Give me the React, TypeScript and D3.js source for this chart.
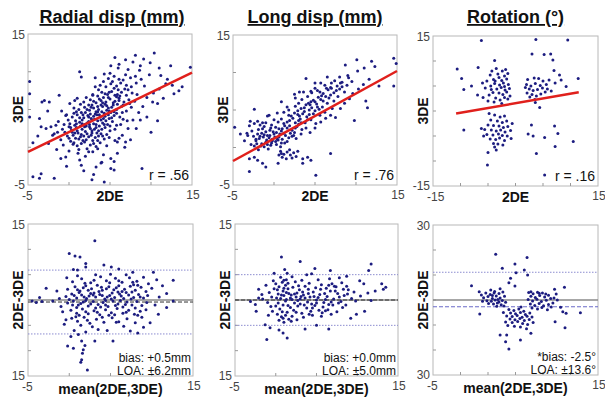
import * as d3 from 'd3';
import React from 'react';

type Pt = [number, number];

// ---- data ----

const radialCorr: Pt[] = [
  [5.6,11.9],[8.1,12.2],[10.4,12.5],[6.9,11.6],[9.1,11.7],[8.7,10.8],[9.9,11.2],[12.4,10.8],[14.8,10.6],[1.3,10.0],
  [5.1,10.8],[6.1,11.0],[7.8,11.3],[1.5,9.3],[4.3,9.7],[11.2,9.5],[11.8,8.4],[12.6,8.2],[13.4,7.5],[12.8,7.1],
  [11.0,7.7],[10.2,6.0],[10.8,5.8],[10.0,2.0],[8.7,3.6],[-4.8,8.7],[-4.8,7.1],[-3.3,6.0],[-3.0,6.2],[-2.4,6.0],
  [-1.2,6.9],[-4.8,4.0],[-3.4,2.7],[-2.8,2.5],[-2.2,2.7],[-1.6,2.9],[-1.4,2.0],[-2.0,1.6],[-0.4,4.2],[0.9,4.7],
  [0.7,6.2],[2.9,6.9],[-4.4,-3.9],[-3.6,-4.1],[-3.4,-3.5],[-1.8,-4.1],[-1.0,-1.5],[-0.4,-1.3],[1.3,-1.7],[1.5,-2.4],
  [3.3,-2.6],[4.3,-4.6],[5.1,-1.5],[5.5,-1.9],[5.1,-2.8],[5.5,-3.0],[8.9,-2.8],[3.9,-2.1],[2.9,-0.6],[6.1,1.2],
  [6.9,0.7],[5.9,0.7],
  [0.2,0.8],[0.8,1.2],[1.5,0.5],[2.1,1.0],[2.6,0.3],[3.2,1.3],[1.0,0.2],[3.8,0.6],[0.5,1.6],[2.9,0.9],[4.3,1.1],[1.8,1.5],
  [-0.5,2.0],[0.3,2.3],[1.1,1.9],[1.6,2.4],[2.2,1.8],[2.8,2.2],[3.4,1.9],[4.0,2.4],[4.6,1.7],[0.9,2.6],[2.5,2.7],[3.7,2.8],[5.0,2.2],[-0.2,1.5],[1.4,1.4],
  [0.1,3.1],[0.7,2.9],[1.3,3.3],[1.9,3.0],[2.4,3.4],[3.0,3.1],[3.5,3.5],[4.1,3.2],[4.7,3.0],[5.3,3.4],[-0.6,3.0],[2.1,2.8],[3.3,2.6],[5.8,2.9],[1.6,3.6],
  [0.4,4.0],[1.0,4.3],[1.8,3.9],[2.3,4.2],[2.7,3.8],[3.2,4.4],[3.8,4.0],[4.3,4.5],[4.9,3.8],[5.5,4.2],[6.2,4.0],[2.0,4.6],[3.5,4.7],[5.1,4.6],[6.6,3.7],[-0.3,4.3],
  [1.2,5.0],[1.9,5.3],[2.5,4.9],[3.0,5.2],[3.6,5.0],[4.1,5.4],[4.6,4.9],[5.2,5.3],[5.8,5.0],[6.4,5.4],[7.0,4.8],[2.8,5.6],[4.4,5.7],[0.6,5.2],[7.6,5.3],
  [1.8,6.0],[2.6,6.3],[3.3,5.9],[3.9,6.2],[4.5,6.0],[5.0,6.4],[5.6,6.1],[6.1,6.5],[6.7,6.0],[7.3,6.3],[4.2,6.6],[5.4,5.6],[8.0,6.1],
  [2.9,7.0],[3.5,6.8],[4.0,7.3],[4.7,7.0],[5.2,7.4],[5.9,7.0],[6.4,7.3],[7.0,6.9],[7.7,7.2],[3.6,7.6],[5.5,7.8],[6.8,7.7],[8.3,7.0],
  [3.8,8.2],[4.5,8.0],[5.1,8.4],[5.8,8.1],[6.3,8.5],[7.0,8.2],[7.6,8.0],[4.2,8.7],[6.6,8.9],[8.2,8.5],
  [4.8,9.1],[5.5,9.4],[6.1,9.0],[6.9,9.6],[7.5,9.2],[5.0,9.8],[8.1,9.4],[3.2,9.2],
  [0.0,1.2],[0.6,0.6],[1.2,1.1],[1.7,0.9],[2.4,1.4],[3.0,0.5],[3.6,1.5],[0.4,2.0],[1.0,2.2],[1.5,1.7],[2.0,2.1],[2.7,1.6],
  [3.1,2.4],[3.9,1.8],[4.4,2.6],[0.2,2.6],[0.8,3.5],[1.4,2.8],[2.2,3.2],[2.8,3.6],[3.3,3.0],[3.9,3.6],[4.5,3.5],[5.0,2.8],
  [1.3,3.9],[1.7,4.3],[2.4,4.0],[3.0,4.1],[3.7,4.3],[4.4,4.1],[4.8,4.3],[2.2,5.0],[2.7,5.3],[3.3,4.7],[3.9,5.6],[4.8,5.2],
  [5.5,4.7],[5.9,5.7],[3.0,6.1],[4.1,5.9],[4.8,6.6],[5.8,6.7],[6.1,6.2],[4.4,7.1],[5.6,6.9],[6.0,7.6],[-1.0,1.0],[-0.8,2.4],
  [-1.3,3.4],[-0.9,4.8],[0.1,5.8],[1.0,6.5],[-1.8,1.8],[-2.5,0.5],[-1.5,-0.3],[0.0,-0.5],[1.2,-0.3],[2.4,-0.6],[3.5,-0.2],
  [4.6,0.2],[5.6,0.9],[6.5,1.6],[7.2,2.5],[7.8,3.6],[8.5,4.6],[9.0,5.4],[9.5,6.6],[10.3,7.2],[9.2,8.1],[8.8,9.0],[9.8,9.6],
  [7.2,10.3],[6.0,10.5],[8.6,10.2],[9.5,4.0],[8.2,2.5],[6.8,0.0],[5.9,-0.8],[4.2,-1.0],[2.0,-1.2],[-0.3,-2.5],[1.8,-3.1],
  [3.0,-3.6],[4.0,-2.0],[7.5,1.0],[-3.8,1.5],[-4.4,0.6],[-2.6,4.8],[-3.6,3.8],[11.5,6.5],[12.0,9.0],[13.8,8.0],[11.0,10.5],
  [10.8,3.5],[2.8,-4.3],
  [0.5,0.4],[1.9,0.7],[2.8,1.9],[3.5,0.9],[4.1,1.5],[0.7,1.9],[1.9,2.7],[2.6,2.5],[3.6,2.2],[4.3,3.0],[0.9,3.1],[1.6,3.1],
  [2.5,3.0],[3.1,3.7],[4.2,3.8],[5.2,3.9],[1.5,4.6],[2.6,4.4],[3.4,4.3],[4.0,4.7],[4.9,4.8],[5.8,4.5],[2.4,5.6],[3.5,5.4],
  [4.6,5.5],[5.4,5.9],[6.6,5.6],[3.7,6.4],[4.9,7.3],[6.2,6.8],[7.2,7.6],[5.3,8.7],[0.0,2.7],[-0.1,3.6],[0.6,4.5],[1.4,5.7],
  [2.1,6.6],[3.2,8.0],[6.5,4.6],[7.1,3.5],[7.4,5.8],[5.6,2.4],[6.3,3.0],[4.9,1.3],[1.1,-0.8],[2.2,-0.2],[3.3,0.1],[-0.7,0.3],
];

const longCorr: Pt[] = [
  [14.6,11.9],[14.9,11.2],[10.1,11.7],[11.9,11.5],[12.3,10.8],[8.7,11.0],[11.0,10.6],[10.2,10.2],[12.8,8.2],[14.6,8.2],
  [11.2,6.2],[11.4,5.3],[9.8,3.6],[9.1,9.3],[8.1,8.6],[6.9,8.0],[5.7,8.6],[3.9,9.2],[2.5,7.1],[3.1,7.4],[0.9,6.1],[4.5,7.5],
  [-4.8,2.7],[-4.1,1.8],[-3.6,0.9],[-3.2,1.6],[-2.9,3.5],[-2.4,5.1],[-2.0,3.5],[-0.8,4.2],[-1.4,3.3],[-3.0,-1.5],[-2.4,-1.3],
  [-2.0,-1.7],[-1.4,-2.1],[-1.0,-2.6],[-3.0,-3.2],[0.5,-2.1],[0.9,-0.8],[3.5,-1.5],[4.1,-1.3],[4.5,-1.7],[3.5,-2.1],[5.1,-3.7],[6.9,-0.8],
  [-2.8,0.4],[-2.2,0.9],[-1.6,0.2],[-1.0,0.7],[-0.4,0.3],[0.2,0.8],[-1.9,-0.3],[0.8,0.1],[-0.7,-0.2],[1.3,0.6],
  [-2.5,1.5],[-1.8,1.2],[-1.2,1.7],[-0.6,1.3],[0.0,1.8],[0.6,1.4],[1.2,1.9],[1.8,1.3],[-1.5,1.9],[-0.2,1.1],[2.4,1.6],[0.4,1.1],[-0.9,1.0],
  [-1.9,2.4],[-1.2,2.8],[-0.5,2.3],[0.2,2.7],[0.9,2.2],[1.6,2.6],[2.2,2.3],[2.8,2.8],[3.4,2.4],[1.3,2.9],[-0.1,2.1],[2.5,2.0],
  [0.5,3.4],[1.2,3.2],[1.9,3.6],[2.6,3.3],[3.2,3.8],[3.8,3.3],[4.5,3.7],[2.3,3.9],[0.0,3.7],[5.1,3.2],[3.0,3.1],
  [1.8,4.3],[2.5,4.6],[3.1,4.2],[3.7,4.8],[4.3,4.4],[5.0,4.9],[5.6,4.3],[2.9,4.9],[4.0,4.1],[6.2,4.7],[1.2,4.7],
  [2.6,5.5],[3.3,5.2],[3.9,5.7],[4.6,5.3],[5.2,5.8],[5.9,5.4],[6.5,5.9],[4.2,5.9],[7.1,5.2],[3.0,5.9],[5.5,5.1],
  [3.4,6.4],[4.1,6.8],[4.8,6.3],[5.4,6.7],[6.0,6.2],[6.7,6.6],[7.3,6.2],[5.8,6.9],[7.8,6.8],[4.5,6.1],
  [4.6,7.3],[5.3,7.6],[6.0,7.2],[6.6,7.7],[7.3,7.3],[8.0,7.8],[8.6,7.4],[5.0,7.9],[7.0,7.9],
  [6.2,8.3],[7.0,8.6],[7.7,8.2],[8.3,8.7],[8.9,8.3],[7.4,8.9],[9.5,8.8],
  [-2.4,0.2],[-1.5,0.5],[-0.8,0.4],[-0.2,0.9],[0.3,0.4],[-1.3,1.4],[-0.5,1.6],[0.1,1.4],[0.7,1.8],[-1.0,2.1],[-2.0,1.8],
  [-2.7,2.2],[-3.3,1.9],[-3.0,2.9],[-2.4,3.2],[-1.7,3.0],[-1.0,3.3],[-0.3,3.0],[0.6,2.5],[1.0,1.1],[1.6,0.8],[2.0,1.9],
  [2.7,1.2],[3.3,1.8],[3.9,2.6],[4.4,2.0],[5.0,2.6],[5.7,3.4],[6.3,3.9],[6.9,4.3],[7.5,4.0],[8.1,5.2],[8.6,5.9],[9.2,6.5],
  [9.6,7.2],[10.3,7.8],[10.9,8.4],[11.6,9.1],[8.0,9.4],[9.0,9.6],[6.5,9.4],[5.0,8.6],[3.6,7.4],[2.6,6.6],[1.6,5.4],[0.4,4.6],[-0.6,4.3],
  [0.8,-0.5],[1.2,-0.9],[1.6,-0.6],[2.0,-1.0],[2.4,-0.7],[1.0,-1.3],[1.5,-1.5],[2.2,-1.4],[2.7,-1.2],[0.6,-1.0],[1.9,-0.3],[2.9,-0.5],
  [-2.1,0.5],[-1.2,0.1],[-0.3,0.6],[0.5,1.0],[-1.7,1.5],[-0.8,1.6],[0.3,2.0],[1.0,2.5],[1.9,2.9],[2.6,2.6],[3.3,3.3],[4.1,3.7],
  [0.9,3.8],[1.6,3.4],[2.1,4.2],[2.9,4.4],[3.5,4.5],[4.3,5.0],[4.8,4.5],[5.3,5.4],[3.7,5.3],[4.4,5.7],[5.0,6.1],[5.7,6.4],
  [6.3,6.8],[6.9,7.0],[5.6,7.4],[6.4,7.9],[7.6,7.6],[8.3,8.1],[3.0,3.6],[1.4,1.6],[2.2,1.5],[-0.4,2.6],[1.8,5.0],[-1.4,2.5],
  [-2.2,1.1],[0.9,0.6],
];

const rotCorr: Pt[] = [
  [-6.2,14.1],[3.7,14.3],[9.5,14.2],[3.0,11.4],[5.2,11.3],[6.4,11.4],[6.8,10.2],[-3.8,10.1],[-10.6,8.4],[-6.8,8.7],
  [7.0,8.1],[8.0,7.2],[11.4,6.5],[-9.8,6.5],[-8.0,5.0],[-9.4,4.3],[-6.9,3.2],[-5.9,2.7],[9.2,4.9],[8.3,6.2],
  [-9.4,-3.8],[2.9,-2.8],[7.1,-3.0],[7.7,-4.5],[5.3,-5.3],[2.3,-4.6],[3.2,-5.0],[7.2,-7.1],[10.5,-6.1],[3.8,-8.5],
  [-5.0,-8.3],[-5.1,-10.8],[4.4,0.7],[3.6,1.7],[5.3,-12.8],
  [-3.5,8.5],[-2.4,8.0],[-1.8,8.3],[-4.6,7.2],[-3.2,7.4],[-2.0,7.0],[-1.4,7.5],[-5.2,6.0],[-4.0,6.3],[-3.0,6.7],
  [-2.5,6.1],[-1.6,6.4],[-3.8,5.5],[-2.9,5.2],[-2.2,5.6],[-1.3,5.3],[-4.5,5.0],[-5.5,4.6],[-3.4,4.4],[-2.6,4.7],
  [-1.9,4.2],[-1.1,4.5],[-4.1,3.7],[-3.0,3.6],[-2.3,3.3],[-1.6,3.8],[-4.8,3.2],[-3.6,2.6],[-2.8,2.2],[-2.0,2.7],
  [-1.4,2.4],[-3.9,1.8],[-2.5,1.5],[-5.0,2.0],[-6.0,5.6],[-4.3,8.0],[-3.7,6.0],[-2.0,4.9],[-1.0,3.0],[-4.4,4.3],
  [-3.8,-0.8],[-2.8,-1.2],[-4.5,-1.8],[-3.3,-2.0],[-2.4,-2.3],[-1.6,-2.0],[-5.0,-2.8],[-4.0,-2.9],[-3.0,-3.0],[-2.2,-3.3],
  [-1.4,-3.1],[-5.6,-3.7],[-4.4,-3.8],[-3.5,-4.0],[-2.7,-3.8],[-1.9,-4.2],[-0.9,-3.9],[-5.2,-4.7],[-4.1,-4.8],[-3.1,-4.6],
  [-2.4,-4.9],[-1.5,-5.0],[-4.6,-5.6],[-3.6,-5.7],[-2.9,-5.4],[-2.0,-5.9],[-0.8,-5.5],[-4.0,-6.5],[-3.2,-6.6],[-2.3,-6.8],
  [-3.8,-7.2],[-5.8,-5.0],[-6.2,-3.5],[-0.6,-2.5],[-2.0,-1.0],[-4.8,-0.5],[-3.5,-7.8],
  [2.2,6.3],[3.4,6.6],[4.2,6.5],[5.0,6.0],[2.0,5.3],[2.8,5.0],[3.6,5.5],[4.5,5.1],[5.6,5.3],[6.1,6.2],
  [2.5,4.4],[3.2,4.1],[4.0,4.3],[4.9,4.6],[5.8,4.4],[2.1,3.6],[3.0,3.3],[3.8,3.0],[4.6,3.4],[5.4,3.8],
  [6.5,4.0],[7.2,5.6],[1.8,4.7],[3.5,2.3],[2.6,2.8],
];

const radialBA: Pt[] = [
  [3.1,11.7],[0.0,9.2],[1.3,8.5],[2.0,7.2],[0.5,6.0],[1.0,5.9],[5.1,6.5],[7.7,5.5],[10.2,5.5],[12.6,3.9],[11.8,1.3],
  [-2.8,2.3],[-3.6,0.5],[-4.0,-0.5],[-3.3,-0.3],[-1.2,0.3],[-0.8,-2.3],[-0.4,-3.9],[-0.2,-9.1],[0.5,-9.5],[1.5,-8.1],
  [1.7,-9.8],[1.5,-11.8],[1.4,-12.3],[2.2,-13.8],[3.1,-8.1],[5.3,-8.1],[3.5,-5.8],[8.3,-6.5],[9.8,-4.5],[10.8,-2.8],[11.8,-1.5],
  [0.4,3.6],[1.5,4.2],[2.6,3.4],[3.8,4.6],[4.5,3.8],[5.6,4.3],[6.4,3.5],[7.3,4.4],[8.2,3.7],[9.0,4.5],[1.0,4.8],[3.2,5.0],
  [5.0,5.1],[6.9,5.0],[9.6,3.2],[-0.3,4.4],
  [-0.2,2.1],[0.7,2.6],[1.3,1.8],[2.0,2.8],[2.7,2.2],[3.4,2.9],[4.0,1.9],[4.8,2.6],[5.4,2.0],[6.0,2.8],[6.7,2.1],[7.4,2.7],
  [8.0,1.9],[8.7,2.5],[9.3,1.7],[1.7,2.4],[3.9,2.5],[5.9,1.6],[7.8,3.0],[10.0,2.3],
  [-0.4,0.7],[0.3,1.2],[0.9,0.4],[1.5,1.0],[2.1,0.3],[2.6,1.3],[3.2,0.6],[3.7,1.1],[4.3,0.2],[4.9,0.9],[5.5,0.5],[6.1,1.2],
  [6.6,0.3],[7.2,1.0],[7.8,0.5],[8.4,1.1],[9.0,0.4],[1.2,1.5],[3.0,1.4],[5.2,1.4],[6.9,1.5],[0.0,0.1],[9.5,0.9],[2.4,0.8],[4.6,0.6],
  [-0.2,-0.6],[0.5,-0.2],[1.1,-1.0],[1.7,-0.4],[2.3,-1.2],[2.9,-0.3],[3.5,-0.9],[4.1,-0.5],[4.7,-1.3],[5.3,-0.2],[5.9,-0.8],
  [6.5,-1.4],[7.0,-0.4],[7.6,-1.0],[8.2,-0.3],[8.8,-1.1],[9.4,-0.5],[0.9,-1.5],[3.8,-1.4],[6.2,-0.1],[2.0,-0.1],[4.4,-0.1],
  [0.2,-2.0],[0.9,-2.6],[1.6,-1.8],[2.3,-2.7],[3.0,-2.1],[3.7,-2.9],[4.4,-1.9],[5.1,-2.5],[5.8,-1.7],[6.5,-2.6],[7.2,-2.0],
  [7.9,-2.8],[8.6,-2.2],[9.3,-1.9],[1.2,-3.0],[4.8,-3.0],
  [0.3,-3.6],[1.0,-4.2],[1.8,-3.4],[2.5,-4.6],[3.3,-3.8],[4.2,-4.4],[5.2,-3.5],[6.0,-4.3],[7.0,-3.7],[8.0,-4.5],[8.8,-3.4],
  [1.4,-5.0],[-0.6,-4.8],[2.8,-5.3],[6.6,-5.2],
  [0.6,-6.0],[1.1,-6.8],[0.2,-7.2],[2.0,-6.3],[4.6,-6.0],[7.4,-6.1],[9.0,-5.4],[10.4,-1.0],[10.9,0.6],[11.3,2.8],[10.6,4.0],
  [-1.5,1.8],[-1.0,-1.3],[-2.0,-0.2],[-4.5,-0.2],[12.6,-0.2],[2.0,6.5],[4.2,6.9],[6.0,6.1],[0.7,8.7],[1.6,-10.5],[1.9,-9.0],
  [0.6,0.9],[1.8,0.6],[2.9,1.0],[4.0,0.9],[5.1,0.2],[6.3,0.8],[7.5,0.2],[8.6,0.6],[0.4,-1.0],[1.4,-0.7],[2.6,-0.8],
  [3.2,-1.6],[4.4,-1.0],[5.6,-1.1],[6.8,-0.9],[8.0,-1.6],[1.0,2.0],[2.3,1.9],[3.6,1.7],[4.5,2.2],[5.7,2.4],[6.4,1.7],
  [7.6,1.6],[8.3,2.9],[0.8,-3.3],[2.0,-2.3],[3.4,-2.4],[5.5,-2.9],[6.9,-2.4],[8.3,-3.0],[1.9,3.3],[3.0,3.9],[4.9,3.4],
  [6.0,3.8],[7.7,3.5],[2.2,-4.0],[4.0,-3.4],[5.7,-4.4],
];

const longBA: Pt[] = [
  [0.7,8.5],[3.0,7.6],[1.1,6.0],[1.4,5.3],[-0.2,5.3],[4.4,5.2],[6.7,5.8],[8.7,4.7],[11.4,5.8],[11.7,7.1],[10.3,3.8],
  [13.0,3.2],[13.5,2.5],[13.2,2.1],[11.3,1.4],[10.9,-2.2],[9.9,-2.8],[11.7,-0.1],[-1.1,-7.8],[1.4,-7.5],[0.9,-6.5],
  [0.4,-5.9],[-1.3,-4.9],[-0.7,-5.5],[3.6,-5.7],[5.0,-5.0],[6.5,-5.7],[-3.1,-0.3],[-2.5,-0.9],[-2.1,0.4],[-1.7,1.1],[-2.1,2.1],
  [-1.6,0.2],[-1.0,-0.5],[-0.5,0.6],[-0.8,1.5],[-0.2,2.2],[0.0,3.2],[0.4,2.6],[0.8,3.5],[1.2,2.9],[0.3,1.2],[0.9,1.8],
  [1.5,2.2],[1.9,1.0],[0.6,0.3],[1.2,-0.2],[1.8,0.4],[2.3,-0.6],[2.6,1.4],[3.0,0.2],[3.4,1.0],[3.9,-0.4],[4.2,0.6],
  [4.6,1.6],[5.0,0.0],[5.4,1.1],[5.9,-0.5],[6.3,0.7],[6.7,1.8],[7.1,0.2],[7.6,1.3],[8.0,-0.3],[8.4,0.9],[8.9,2.0],[9.3,0.3],
  [2.1,2.5],[2.9,2.0],[3.6,2.7],[4.1,3.3],[4.9,2.4],[5.6,3.0],[6.2,2.3],[6.9,3.2],[7.4,2.6],[8.1,3.4],[8.7,2.7],[9.6,1.6],
  [2.4,3.6],[3.2,3.9],[5.2,4.0],[6.6,4.2],[7.8,4.4],[0.0,-1.2],[0.5,-1.8],[0.9,-1.0],[1.4,-2.4],[1.8,-1.5],[2.2,-2.0],
  [2.7,-1.2],[3.2,-2.6],[3.8,-1.6],[4.3,-2.2],[4.8,-1.1],[5.3,-2.0],[5.8,-1.4],[6.4,-1.9],[7.0,-1.0],[7.5,-2.3],[8.2,-1.5],
  [0.2,-2.8],[0.7,-3.3],[1.2,-3.0],[1.6,-3.8],[2.0,-3.2],[0.4,-4.0],[1.0,-4.4],[2.6,-3.9],[3.4,-3.4],[4.5,-3.0],[5.6,-3.2],
  [6.8,-2.8],[-0.4,-2.2],[-0.9,-3.0],[0.1,0.4],[1.0,0.9],[1.6,1.3],[2.0,0.1],[2.5,0.6],[3.6,0.4],[4.4,-0.8],[5.2,0.5],
  [6.0,1.3],[6.8,-0.4],[7.8,0.6],[8.6,-1.0],[9.8,-0.2],[10.4,0.8],[3.0,-0.8],[4.0,1.3],[0.6,4.5],[1.3,4.0],[-0.3,3.8],
  [-1.2,2.9],[2.0,4.6],[3.8,5.0],[4.8,6.2],[10.8,3.2],[12.2,1.8],[9.2,-3.6],[-2.4,-2.2],
  [0.2,2.0],[0.7,1.0],[1.3,1.5],[1.5,3.3],[1.0,2.3],[2.3,1.2],[2.8,2.8],[3.3,1.6],[3.1,0.7],[4.0,2.1],[4.7,0.7],[5.5,2.1],
  [6.1,0.1],[6.5,2.9],[7.3,1.8],[7.7,-0.6],[8.3,2.1],[0.3,-0.6],[0.8,-2.3],[1.5,-1.1],[2.5,-2.4],[3.5,-1.0],[4.1,-2.8],
  [5.0,-0.6],[5.7,-2.5],[6.5,-0.9],[0.9,-3.6],[1.9,-4.2],[1.3,0.1],[2.7,-0.1],[4.5,-1.6],[6.1,-2.1],[7.2,2.7],[8.8,1.2],
  [1.0,3.9],[-0.6,-1.3],
];

const rotBA: Pt[] = [
  [-3.6,18.3],[2.1,17.0],[-0.1,14.4],[-2.4,12.7],[1.6,12.0],[2.2,10.0],[0.1,10.9],[-0.9,8.7],[-1.2,6.9],[-0.1,5.6],
  [-8.0,5.7],[-6.6,3.3],[-6.5,-5.6],[-2.8,-14.0],[-1.6,-14.0],[-1.8,-16.7],[-1.2,-19.6],[0.9,-16.0],[2.8,-13.3],
  [8.9,5.1],[7.1,4.3],[7.4,2.4],[7.6,0.0],[8.2,-2.9],[8.6,-4.7],[9.2,-5.3],[11.8,-5.1],[9.0,-11.1],[7.2,-8.7],
  [2.8,3.3],[4.3,2.7],[5.5,2.4],
  [-6.2,2.0],[-5.4,2.8],[-4.6,2.2],[-3.8,3.4],[-3.0,2.6],[-2.3,3.2],[-5.8,0.9],[-5.0,1.4],[-4.2,0.6],[-3.5,1.6],
  [-2.8,0.8],[-2.0,1.5],[-5.2,-0.3],[-4.4,-0.5],[-3.7,0.0],[-3.0,-0.8],[-2.4,-0.2],[-1.8,-0.9],[-4.9,-1.4],[-4.0,-1.6],
  [-3.3,-1.2],[-2.6,-1.9],[-3.9,2.8],[-4.5,4.0],[-2.8,4.5],[-3.4,-2.5],[-2.1,-2.4],[-6.0,-0.5],[-4.2,1.8],[-3.2,0.2],
  [-1.2,-3.8],[-0.3,-4.2],[0.6,-3.6],[1.5,-4.5],[-0.9,-5.2],[0.0,-5.5],[0.9,-5.0],[1.8,-5.8],[2.6,-5.2],[-1.6,-6.4],
  [-0.6,-6.6],[0.3,-6.2],[1.2,-6.9],[2.1,-6.5],[3.0,-6.8],[-1.0,-7.6],[-0.1,-7.9],[0.8,-7.4],[1.6,-8.2],[2.5,-7.8],
  [-1.8,-8.8],[-0.6,-9.0],[0.4,-8.6],[1.3,-9.4],[2.2,-9.8],[-0.2,-10.5],[0.9,-10.8],[-1.4,-10.2],[3.2,-9.0],[2.0,-11.5],
  [-2.2,-5.0],[1.0,-2.8],
  [2.4,3.0],[3.2,2.5],[4.0,3.1],[4.9,2.8],[2.8,1.5],[3.6,1.0],[4.4,1.8],[5.3,1.2],[6.0,1.9],[2.3,0.2],[3.1,-0.4],
  [3.9,0.3],[4.7,-0.6],[5.6,-0.1],[6.4,0.6],[2.7,-1.6],[3.5,-2.2],[4.3,-1.4],[5.1,-2.3],[6.0,-1.8],[3.0,-3.2],[4.0,-3.6],
  [4.8,-3.0],[5.8,-3.9],[6.5,-2.8],[7.0,0.8],[6.8,-1.2],
];

const titles = ['Radial disp (mm)', 'Long disp (mm)', 'Rotation (°)'];
const rLabels = ['r = .56', 'r = .76', 'r = .16'];
// regression lines: slope, intercept, x range drawn
const fitSlope = [0.525, 0.6, 0.19];
const fitIntercept = [2.0, 1.2, 1.55];
const fitRange: Pt[] = [[-5, 15], [-5, 15], [-10.8, 11.5]];
// Bland-Altman: mean line, limits of agreement
const baBias = [-0.4, 0.0, -2.7];
const baLoa = [6.3, 5.0, 13.8];
const baText = [
  ['bias: +0.5mm', 'LOA: ±6.2mm'],
  ['bias: +0.0mm', 'LOA: ±5.0mm'],
  ['*bias: -2.5°', 'LOA: ±13.6°'],
];
const yEndLabels = [['-5', '15'], ['-5', '15'], ['-15', '15'], ['15', '15'], ['15', '15'], ['30', '30']];
const xEndLabels = [['-5', '15'], ['-5', '15'], ['-15', '15'], ['-5', '15'], ['-5', '15'], ['-5', '15']];

// ---- layout ----
const FONT = '"Liberation Sans", Arial, sans-serif';
const DOT = '#1c1c80';

const frames = [
  { left: 28, top: 34, w: 164, h: 151, xd: [-5, 15], yd: [-5, 15], xs: 5, ys: 5 },
  { left: 233, top: 35, w: 164, h: 150, xd: [-5, 15], yd: [-5, 15], xs: 5, ys: 5 },
  { left: 433, top: 36, w: 165, h: 150, xd: [-15, 15], yd: [-15, 15], xs: 5, ys: 5 },
  { left: 28, top: 224, w: 165, h: 152, xd: [-5, 15], yd: [-15, 15], xs: 5, ys: 5 },
  { left: 235, top: 224, w: 163, h: 152, xd: [-5, 15], yd: [-15, 15], xs: 5, ys: 5 },
  { left: 433, top: 225, w: 165, h: 150, xd: [-15, 15], yd: [-30, 30], xs: 5, ys: 10 },
];
const panelData = [radialCorr, longCorr, rotCorr, radialBA, longBA, rotBA];

function Panel({ i }: { i: number }) {
  const f = frames[i];
  const x = d3.scaleLinear().domain(f.xd).range([f.left, f.left + f.w]);
  const y = d3.scaleLinear().domain(f.yd).range([f.top + f.h, f.top]);
  const xt = d3.range(f.xd[0] + f.xs, f.xd[1] - 1e-6, f.xs);
  const yt = d3.range(f.yd[0] + f.ys, f.yd[1] - 1e-6, f.ys);
  const bottom = f.top + f.h;
  const right = f.left + f.w;
  const isTop = i < 3;
  const k = i % 3;
  const cx = f.left + f.w / 2;

  return (
    <g>
      <rect x={f.left} y={f.top} width={f.w} height={f.h} fill="#fff" stroke="#b8b8b8" strokeWidth={1} />
      {xt.map((t) => (
        <line key={'xt' + t} x1={x(t)} x2={x(t)} y1={bottom} y2={bottom - 3} stroke="#999" />
      ))}
      {yt.map((t) => (
        <line key={'yt' + t} x1={f.left} x2={f.left + 3} y1={y(t)} y2={y(t)} stroke="#999" />
      ))}

      {!isTop && (
        <g>
          <line x1={f.left} x2={right} y1={y(0)} y2={y(0)} stroke="#8a8a8a" strokeWidth={1.5} />
          <line x1={f.left} x2={right} y1={y(baBias[k])} y2={y(baBias[k])}
            stroke={k === 2 ? '#6a6ac8' : '#333'} strokeWidth={1} strokeDasharray="4,2" />
          <line x1={f.left} x2={right} y1={y(baBias[k] + baLoa[k])} y2={y(baBias[k] + baLoa[k])}
            stroke="#8c8cd0" strokeWidth={1} strokeDasharray="1.5,1.5" />
          {k !== 2 && (
            <line x1={f.left} x2={right} y1={y(baBias[k] - baLoa[k])} y2={y(baBias[k] - baLoa[k])}
              stroke="#8c8cd0" strokeWidth={1} strokeDasharray="1.5,1.5" />
          )}
        </g>
      )}

      {panelData[i].map((d, j) => (
        <circle key={j} cx={x(d[0])} cy={y(d[1])} r={1.5} fill={DOT} />
      ))}

      {isTop && (
        <line
          x1={x(fitRange[k][0])} y1={y(fitIntercept[k] + fitSlope[k] * fitRange[k][0])}
          x2={x(fitRange[k][1])} y2={y(fitIntercept[k] + fitSlope[k] * fitRange[k][1])}
          stroke="#e0201c" strokeWidth={2.5} />
      )}

      {/* tick end labels */}
      <text x={f.left - 3} y={f.top + 5} textAnchor="end" fontSize={12} fill="#444">{yEndLabels[i][1]}</text>
      <text x={f.left - 3} y={bottom + 4} textAnchor="end" fontSize={12} fill="#444">{yEndLabels[i][0]}</text>
      <text x={f.left - 6} y={bottom + 15} textAnchor="start" fontSize={12} fill="#444">{xEndLabels[i][0]}</text>
      <text x={right + 1} y={bottom + 14} textAnchor="middle" fontSize={12} fill="#444">{xEndLabels[i][1]}</text>

      {/* axis titles */}
      <text transform={`translate(${f.left - 5},${f.top + f.h / 2}) rotate(-90)`} textAnchor="middle"
        fontSize={14} fontWeight="bold" fill="#111">{isTop ? '3DE' : '2DE-3DE'}</text>
      <text x={cx} y={isTop ? bottom + 16 : bottom + 18} textAnchor="middle" fontSize={14} fontWeight="bold" fill="#111">
        {isTop ? '2DE' : 'mean(2DE,3DE)'}
      </text>

      {isTop ? (
        <text x={right - 3} y={bottom - 5} textAnchor="end" fontSize={14} fill="#111">{rLabels[k]}</text>
      ) : (
        <g fontSize={12} fill="#111" textAnchor="end">
          <text x={right - 2} y={bottom - 14}>{baText[k][0]}</text>
          <text x={right - 2} y={bottom - 1}>{baText[k][1]}</text>
        </g>
      )}
    </g>
  );
}

export default function App() {
  return (
    <svg width={605} height={400}
      style={{ position: 'absolute', left: 0, top: 0, display: 'block', background: '#fff', fontFamily: FONT }}>
      {titles.map((t, k) => (
        <text key={t} x={frames[k].left + frames[k].w / 2 + (k === 0 ? 2 : 0)} y={23} textAnchor="middle"
          fontSize={18} fontWeight="bold" textDecoration="underline" fill="#111">{t}</text>
      ))}
      {frames.map((_, i) => (
        <Panel key={i} i={i} />
      ))}
    </svg>
  );
}
